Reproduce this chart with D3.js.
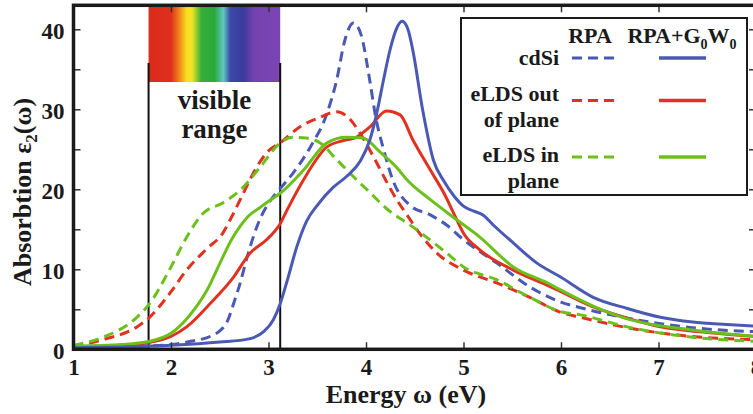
<!DOCTYPE html>
<html>
<head>
<meta charset="utf-8">
<script src="https://cdn.jsdelivr.net/npm/d3@7"></script>
<style>
  body { margin: 0; background: #fff; }
  svg { display: block; font-family: 'Liberation Serif', 'DejaVu Serif', serif; font-weight: bold; }
</style>
</head>
<body>
<svg id="chart" width="753" height="414"></svg>
<script>
'use strict'

// energies (eV) and eps2 values, one list per curve
const cdSiRPA = [[1.0, 0.2], [1.5, 0.3], [2.0, 0.6], [2.2, 1.0], [2.4, 1.6], [2.5, 2.3], [2.57, 3.3], [2.65, 6.0],
  [2.71, 8.3], [2.78, 11.5], [2.91, 16.2], [3.02, 18.6], [3.12, 20.1], [3.25, 22.0], [3.43, 25.3], [3.6, 29.5],
  [3.7, 33.7], [3.78, 38.5], [3.87, 40.8], [3.95, 39.3], [4.04, 33.5], [4.1, 29.0], [4.18, 25.0], [4.28, 21.0],
  [4.45, 18.0], [4.66, 16.8], [4.83, 15.5], [5.0, 13.7], [5.34, 10.8], [5.68, 7.8], [6.0, 5.9], [6.2, 5.2],
  [6.68, 3.9], [7.35, 2.7], [8.0, 2.2]]

const cdSiGW = [[1.0, 0.2], [1.5, 0.3], [2.0, 0.5], [2.5, 0.9], [2.8, 1.3], [2.95, 2.2], [3.05, 3.7], [3.12, 5.7],
  [3.19, 8.5], [3.29, 12.8], [3.39, 16.0], [3.5, 18.0], [3.66, 20.2], [3.8, 21.6], [3.94, 23.5], [4.04, 26.2],
  [4.11, 29.5], [4.18, 33.7], [4.25, 37.6], [4.31, 40.0], [4.37, 41.0], [4.43, 40.0], [4.48, 37.4], [4.58, 30.0],
  [4.69, 23.7], [4.8, 21.0], [4.9, 19.2], [5.0, 17.9], [5.1, 17.3], [5.2, 16.8], [5.3, 15.6], [5.51, 13.3],
  [5.75, 10.8], [6.0, 9.0], [6.33, 6.5], [6.68, 5.1], [7.02, 4.0], [7.35, 3.4], [7.7, 3.1], [8.0, 2.9]]

const eldsOutRPA = [[1.0, 0.3], [1.3, 1.2], [1.65, 2.8], [1.78, 4.0], [2.0, 7.2], [2.16, 9.9], [2.37, 12.6],
  [2.53, 14.5], [2.62, 16.5], [2.71, 18.7], [2.88, 22.8], [3.0, 24.8], [3.12, 25.8], [3.32, 27.8], [3.53, 29.0],
  [3.7, 29.7], [3.84, 28.7], [3.94, 27.0], [4.08, 24.0], [4.2, 21.2], [4.31, 18.8], [4.42, 16.8], [4.55, 14.5],
  [4.73, 12.0], [5.0, 9.9], [5.34, 8.3], [5.68, 6.5], [6.0, 4.6], [6.2, 4.0], [6.68, 2.7], [7.35, 1.6], [8.0, 1.2]]

const eldsOutGW = [[1.0, 0.3], [1.5, 0.5], [1.8, 0.9], [2.0, 1.6], [2.16, 2.8], [2.4, 5.7], [2.64, 9.0],
  [2.81, 12.0], [2.98, 13.7], [3.12, 15.7], [3.19, 17.4], [3.36, 21.2], [3.6, 25.3], [3.77, 26.1], [3.9, 26.5],
  [4.04, 27.8], [4.21, 29.8], [4.35, 29.3], [4.48, 26.2], [4.66, 22.4], [4.8, 19.5], [4.9, 17.0], [5.0, 14.5],
  [5.17, 12.4], [5.51, 9.9], [5.86, 8.0], [6.0, 7.2], [6.33, 5.3], [6.68, 3.9], [7.02, 2.8], [7.5, 2.1], [8.0, 1.6]]

const eldsInRPA = [[1.0, 0.5], [1.3, 1.5], [1.65, 4.0], [1.78, 5.7], [2.0, 10.3], [2.16, 14.0], [2.33, 17.0],
  [2.53, 18.3], [2.71, 19.9], [2.91, 22.7], [3.12, 25.8], [3.25, 26.5], [3.39, 26.4], [3.53, 25.8], [3.7, 23.7],
  [3.87, 21.6], [4.04, 19.6], [4.21, 17.6], [4.48, 15.3], [4.83, 12.0], [5.0, 10.3], [5.34, 8.7], [5.68, 6.5],
  [6.0, 4.7], [6.2, 4.3], [6.68, 2.8], [7.35, 1.5], [8.0, 1.0]]

const eldsInGW = [[1.0, 0.4], [1.5, 0.6], [1.78, 1.0], [2.0, 2.0], [2.16, 3.8], [2.37, 7.4], [2.53, 11.5],
  [2.62, 13.7], [2.71, 15.4], [2.79, 16.6], [2.91, 17.7], [3.0, 18.5], [3.12, 19.5], [3.36, 22.4], [3.6, 25.8],
  [3.8, 26.5], [3.97, 26.4], [4.14, 24.7], [4.31, 22.8], [4.42, 21.2], [4.66, 18.7], [4.93, 16.2], [5.17, 14.0],
  [5.51, 10.3], [5.86, 8.3], [6.0, 7.4], [6.33, 5.4], [6.68, 3.8], [7.35, 2.4], [8.0, 1.6]]

const xTicks = [1, 2, 3, 4, 5, 6, 7, 8]
const yTicks = [0, 5, 10, 15, 20, 25, 30, 35, 40]
const yLabels = [0, 10, 20, 30, 40]
const visibleRange = [1.77, 3.12]

const materials = ['cdSi', 'eLDS out of plane', 'eLDS in plane']
const colors = ['#4b59b6', '#e0321f', '#6cc01c']
const methods = ['RPA', 'RPA+G0W0']

const series = [
  { data: cdSiRPA, mat: 0, method: 0 },
  { data: eldsOutRPA, mat: 1, method: 0 },
  { data: eldsInRPA, mat: 2, method: 0 },
  { data: eldsOutGW, mat: 1, method: 1 },
  { data: eldsInGW, mat: 2, method: 1 },
  { data: cdSiGW, mat: 0, method: 1 }
]

const svg = d3.select('#chart')
const plotLeft = 73.5, plotRight = 756, plotTop = 5.3, plotBottom = 349.3

const x = d3.scaleLinear().domain([1, 8]).range([plotLeft, plotRight])
const y = d3.scaleLinear().domain([0, 43]).range([plotBottom, plotTop])

const defs = svg.append('defs')
defs.append('clipPath').attr('id', 'plot')
  .append('rect')
  .attr('x', plotLeft).attr('y', plotTop)
  .attr('width', plotRight - plotLeft).attr('height', plotBottom - plotTop)

// visible spectrum strip
const grad = defs.append('linearGradient').attr('id', 'spectrum')
const stops = [[0, '#dc2a1c'], [0.17, '#de2f1c'], [0.23, '#f07f1a'], [0.29, '#f6df22'], [0.33, '#f2e424'],
  [0.40, '#36b03a'], [0.50, '#2aa83a'], [0.57, '#62c4c6'], [0.62, '#3c4aa8'], [0.72, '#3a3a9a'],
  [0.80, '#7442b0'], [1, '#7a44b4']]
grad.selectAll('stop').data(stops).enter().append('stop')
  .attr('offset', d => d[0]).attr('stop-color', d => d[1])

svg.append('rect')
  .attr('x', x(visibleRange[0])).attr('y', 7)
  .attr('width', x(visibleRange[1]) - x(visibleRange[0]))
  .attr('height', 75)
  .style('fill', 'url(#spectrum)')

svg.selectAll('.vis-line')
  .data(visibleRange)
  .enter().append('line')
  .attr('x1', d => x(d)).attr('x2', d => x(d))
  .attr('y1', y(35.8)).attr('y2', plotBottom)
  .style('stroke', '#111').style('stroke-width', 2)

const midX = (x(visibleRange[0]) + x(visibleRange[1])) / 2
svg.append('text').attr('x', midX).attr('y', 109)
  .style('text-anchor', 'middle').style('font-size', '27px').style('fill', '#1a1a1a')
  .text('visible')
svg.append('text').attr('x', midX).attr('y', 138)
  .style('text-anchor', 'middle').style('font-size', '27px').style('fill', '#1a1a1a')
  .text('range')

// curves
const line = d3.line()
  .x(d => x(d[0]))
  .y(d => y(d[1]))
  .curve(d3.curveMonotoneX)

svg.append('g').attr('clip-path', 'url(#plot)')
  .selectAll('path')
  .data(series)
  .enter().append('path')
  .attr('d', d => line(d.data))
  .style('fill', 'none')
  .style('stroke', d => colors[d.mat])
  .style('stroke-width', 3)
  .style('stroke-dasharray', d => d.method === 0 ? '10,6' : null)

// axes, ticks pointing inward on all four sides
function styleAxis (g) {
  g.select('.domain').remove()
  g.selectAll('.tick line').style('stroke', '#333').style('stroke-width', 1.5)
  g.selectAll('text').style('font-family', "'Liberation Serif', serif")
    .style('font-weight', 'bold').style('font-size', '23px').style('fill', '#1a1a1a')
}

svg.append('g').attr('transform', `translate(0,${plotBottom})`)
  .call(d3.axisBottom(x).tickValues(xTicks).tickSize(-7).tickPadding(9).tickFormat(d3.format('d')))
  .call(styleAxis)
svg.append('g').attr('transform', `translate(0,${plotTop})`)
  .call(d3.axisTop(x).tickValues(xTicks).tickSize(-7).tickFormat(''))
  .call(styleAxis)
svg.append('g').attr('transform', `translate(${plotLeft},0)`)
  .call(d3.axisLeft(y).tickValues(yTicks).tickSize(-7).tickPadding(9)
    .tickFormat(d => yLabels.includes(d) ? d : ''))
  .call(styleAxis)
  .selectAll('text').attr('dy', '0.42em')
svg.append('g').attr('transform', `translate(${plotRight},0)`)
  .call(d3.axisRight(y).tickValues(yTicks).tickSize(-7).tickFormat(''))
  .call(styleAxis)

svg.append('rect')
  .attr('x', plotLeft).attr('y', plotTop)
  .attr('width', plotRight - plotLeft).attr('height', plotBottom - plotTop)
  .style('fill', 'none').style('stroke', '#1a1a1a').style('stroke-width', 3.5)

// axis titles
svg.append('text').attr('x', 406).attr('y', 403)
  .style('text-anchor', 'middle').style('font-size', '26px').style('fill', '#1a1a1a')
  .text('Energy ω (eV)')

const yTitle = svg.append('text')
  .attr('transform', 'translate(31,192) rotate(-90)')
  .style('text-anchor', 'middle').style('font-size', '26px').style('fill', '#1a1a1a')
yTitle.append('tspan').text('Absorbtion ε')
yTitle.append('tspan').attr('font-size', '17px').attr('dy', 6).text('2')
yTitle.append('tspan').attr('dy', -6).text('(ω)')

// legend
const legend = svg.append('g')
legend.append('rect')
  .attr('x', 461).attr('y', 18).attr('width', 286).attr('height', 177)
  .style('fill', '#fff').style('stroke', '#1a1a1a').style('stroke-width', 2)

const legendFont = '22px'
legend.append('text').attr('x', 590).attr('y', 43)
  .style('text-anchor', 'middle').style('font-size', legendFont).style('fill', '#1a1a1a')
  .text(methods[0])
const gwHead = legend.append('text').attr('x', 682).attr('y', 43)
  .style('text-anchor', 'middle').style('font-size', legendFont).style('fill', '#1a1a1a')
gwHead.append('tspan').text('RPA+G')
gwHead.append('tspan').attr('font-size', '14px').attr('dy', 6).text('0')
gwHead.append('tspan').attr('dy', -6).text('W')
gwHead.append('tspan').attr('font-size', '14px').attr('dy', 6).text('0')

const rowLines = [58, 100.5, 157]
const rowText = [[['cdSi', 65]], [['eLDS out', 101], ['of plane', 127]], [['eLDS in', 162], ['plane', 188]]]

materials.forEach((m, i) => {
  rowText[i].forEach(t => {
    legend.append('text').attr('x', 559).attr('y', t[1])
      .style('text-anchor', 'end').style('font-size', legendFont).style('fill', '#1a1a1a')
      .text(t[0])
  })
  legend.append('line')
    .attr('x1', 572).attr('x2', 616).attr('y1', rowLines[i]).attr('y2', rowLines[i])
    .style('stroke', colors[i]).style('stroke-width', 3).style('stroke-dasharray', '10,6')
  legend.append('line')
    .attr('x1', 659).attr('x2', 706).attr('y1', rowLines[i]).attr('y2', rowLines[i])
    .style('stroke', colors[i]).style('stroke-width', 3.5)
})
</script>
</body>
</html>
